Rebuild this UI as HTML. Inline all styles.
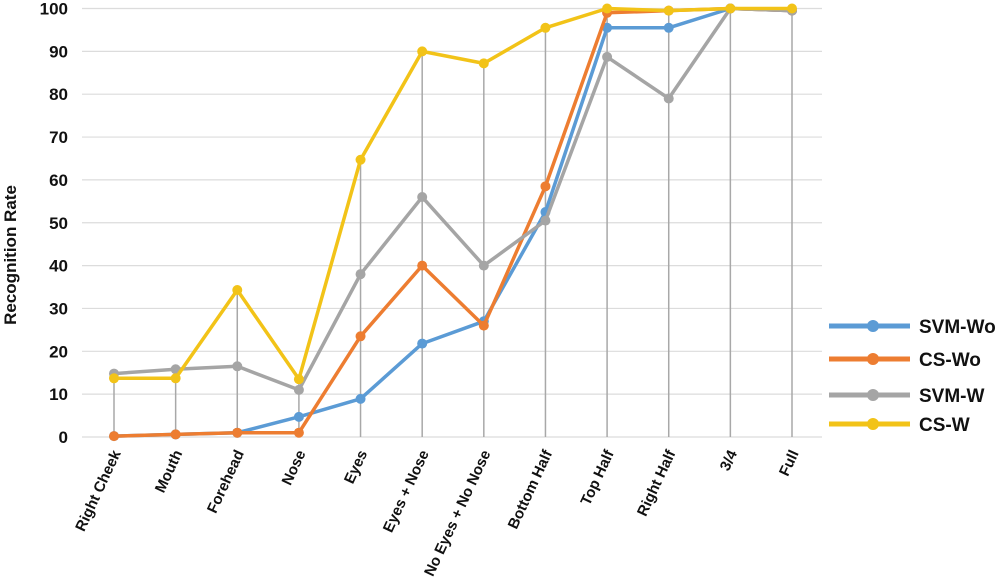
<!DOCTYPE html>
<html><head><meta charset="utf-8"><style>
body{margin:0;background:#fff}
svg{display:block;font-family:"Liberation Sans",sans-serif;font-weight:bold}
</style></head><body>
<svg id="c" width="1000" height="577"></svg>
<script>
const categories=["Right Cheek","Mouth","Forehead","Nose","Eyes","Eyes + Nose","No Eyes + No Nose","Bottom Half","Top Half","Right Half","3/4","Full"];
const svmWo=[0.2,0.6,1,4.7,8.9,21.8,27,52.5,95.5,95.5,100,99.5];
const csWo=[0.2,0.6,1,1,23.5,40,26,58.5,99,99.5,100,99.5];
const svmW=[14.8,15.8,16.5,11,38,56,40,50.5,88.7,79,100,99.5];
const csW=[13.7,13.7,34.3,13.5,64.7,90,87.2,95.5,100,99.5,100,100];
const yTicks=[0,10,20,30,40,50,60,70,80,90,100];
const seriesNames=["SVM-Wo","CS-Wo","SVM-W","CS-W"];
const colors=["#5b9bd5","#ed7d31","#a5a5a5","#f2c318"];
const NS="http://www.w3.org/2000/svg";
const svg=document.getElementById('c');
const x0=82,x1=822,y0=437,yTop=8.5;
function ys(v){return y0-(v/100)*(y0-yTop);}
function xs(i){return 114+i*(792-114)/(categories.length-1);}
function el(t,a,p){const e=document.createElementNS(NS,t);for(const k in a)e.setAttribute(k,a[k]);(p||svg).appendChild(e);return e;}
yTicks.forEach(t=>{
 const g=el('line',{x1:x0,x2:x1,y1:ys(t),y2:ys(t),stroke:'#dcdcdc','stroke-width':1.2});
 
 
 const l=el('text',{x:68,y:ys(t)+6,'text-anchor':'end','font-size':17,fill:'#111'});l.textContent=t;
 
 
});
const all=[svmWo,csWo,svmW,csW];
categories.forEach((c,i)=>{
 const m=Math.max(...all.map(s=>s[i]));
 const d=el('line',{x1:xs(i),x2:xs(i),y1:ys(m),y2:y0,stroke:'#a8a8a8','stroke-width':1.5});
 
 
 const t=el('text',{transform:`translate(${xs(i)+7},${y0+16}) rotate(-65)`,'text-anchor':'end','font-size':15,fill:'#111'});t.textContent=c;
 
 
});
const yt=el('text',{transform:'translate(16,255) rotate(-90)','text-anchor':'middle','font-size':17,fill:'#111'});yt.textContent='Recognition Rate';


all.forEach((s,k)=>{
 const g=el('g',{});
 
 
 el('polyline',{points:s.map((v,i)=>xs(i)+','+ys(v)).join(' '),fill:'none',stroke:colors[k],'stroke-width':3.5,'stroke-linejoin':'round'},g);
 s.forEach((v,i)=>{const p=el('circle',{cx:xs(i),cy:ys(v),r:5,fill:colors[k]},g);
  
  });
});
const ly=[326,359,395,424];
seriesNames.forEach((n,k)=>{
 const g=el('g',{});
 
 
 el('line',{x1:829,x2:910,y1:ly[k],y2:ly[k],stroke:colors[k],'stroke-width':5},g);
 el('circle',{cx:873,cy:ly[k],r:6,fill:colors[k]},g);
 const t=el('text',{x:919,y:ly[k]+7,'font-size':19,fill:'#111'},g);t.textContent=n;
});
</script>
</body></html>
